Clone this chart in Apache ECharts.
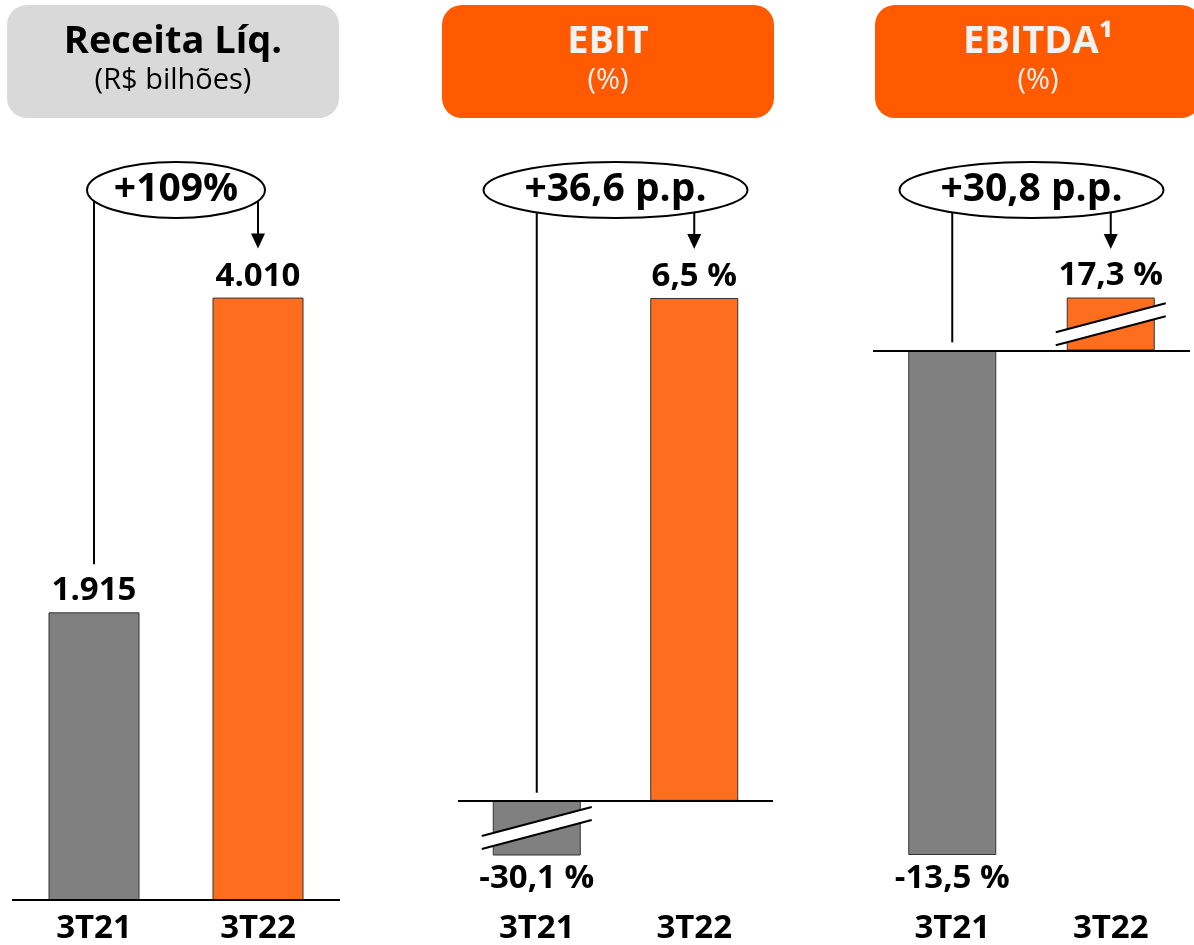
<!DOCTYPE html>
<html><head><meta charset="utf-8">
<script src="https://cdn.jsdelivr.net/npm/echarts@6/dist/echarts.min.js"></script>
<style>html,body{margin:0;padding:0;background:#fff}#c{width:1194px;height:945px}</style>
</head><body><div id="c"></div>
<script>
// ---- data ----
const categories = ['3T21', '3T22'];
const receitaValues = [1915, 4010];
const ebitValues = [-30.1, 6.5];
const ebitdaValues = [-13.5, 17.3];
const panelTitles = ['Receita Líq.', 'EBIT', 'EBITDA¹'];
const panelSubtitles = ['(R$ bilhões)', '(%)', '(%)'];
const deltaLabels = ['+109%', '+36,6 p.p.', '+30,8 p.p.'];

// ---- style / layout ----
const FONT = "'Open Sans', 'Noto Sans', sans-serif";
const GRAY = '#808080', ORANGE = '#ff6e1f', HEAD_ORANGE = '#ff5a00';
const ELLIPSE_Y = 190, ELLIPSE_RY = 28;
const fmtThousands = v => String(Math.round(v)).replace(/\B(?=(\d{3})+(?!\d))/g, '.');
const fmtPct = v => v.toFixed(1).replace('.', ',') + ' %';

const panels = [
  { values: receitaValues, fmt: fmtThousands, grid: { left: 12, width: 328, top: 224, bottom: 43 },
    yMin: 0, yMax: 4500, barWidth: 91, labelMargin: 12, rx: 89,
    header: { x: 7, w: 332, fill: '#d9d9d9', color: '#000' } },
  { values: ebitValues, fmt: fmtPct, grid: { left: 458, width: 315, top: 298, bottom: 88 },
    yMin: -0.7, yMax: 6.5, barWidth: 88, labelMargin: 57, rx: 132,
    header: { x: 442, w: 332, fill: HEAD_ORANGE, color: '#f2f2f2' } },
  { values: ebitdaValues, fmt: fmtPct, grid: { left: 873, width: 317, top: 298, bottom: 88 },
    yMin: -13.5, yMax: 1.4, barWidth: 88, labelMargin: 57, rx: 132,
    header: { x: 875, w: 326, fill: HEAD_ORANGE, color: '#f2f2f2' } }
];

const grid = [], xAxis = [], yAxis = [], series = [], graphic = [];
panels.forEach((p, k) => {
  grid.push(Object.assign({ containLabel: false }, p.grid));
  xAxis.push({
    type: 'category', gridIndex: k, data: categories,
    axisLine: { show: false, onZero: false }, axisTick: { show: false },
    axisLabel: { fontFamily: FONT, fontWeight: 'bold', fontSize: 33, lineHeight: 33, color: '#000', margin: p.labelMargin }
  });
  yAxis.push({ type: 'value', gridIndex: k, min: p.yMin, max: p.yMax, show: false });

  series.push({
    type: 'bar', xAxisIndex: k, yAxisIndex: k, barWidth: p.barWidth, clip: true,
    data: p.values.map((v, i) => ({
      value: v,
      itemStyle: { color: i === 0 ? GRAY : ORANGE },
      label: { position: v < 0 ? 'bottom' : 'top', distance: v < 0 ? 7 : 5 }
    })),
    itemStyle: { borderColor: '#333', borderWidth: 1 },
    label: {
      show: true, formatter: prm => p.fmt(prm.value),
      fontFamily: FONT, fontWeight: 'bold', fontSize: 33, lineHeight: 33, color: '#000'
    },
    markLine: {
      silent: true, symbol: ['none', 'none'], label: { show: false },
      lineStyle: { color: '#000', width: 2, type: 'solid' },
      data: [{ yAxis: 0 }]
    }
  });

  // axis-break marks on bars that exceed the visible range
  series.push({
    type: 'custom', xAxisIndex: k, yAxisIndex: k, z: 10, silent: true,
    data: p.values.map((v, i) => [i, v]),
    renderItem: (params, api) => {
      const i = api.value(0), v = api.value(1);
      if (v <= p.yMax && v >= p.yMin) return { type: 'group', children: [] };
      const lim = v > p.yMax ? p.yMax : p.yMin;
      const c = api.coord([i, lim / 2]);
      const hw = p.barWidth / 2 + 11;
      const x1 = c[0] - hw, x2 = c[0] + hw, yc = c[1];
      const u1 = yc + 8, u2 = yc - 21, l1 = yc + 21, l2 = yc - 8;
      return { type: 'group', children: [
        { type: 'polygon', shape: { points: [[x1, u1], [x2, u2], [x2, l2], [x1, l1]] }, style: { fill: '#fff' } },
        { type: 'line', shape: { x1: x1, y1: u1, x2: x2, y2: u2 }, style: { stroke: '#000', lineWidth: 2 } },
        { type: 'line', shape: { x1: x1, y1: l1, x2: x2, y2: l2 }, style: { stroke: '#000', lineWidth: 2 } }
      ] };
    }
  });

  // change annotation: ellipse + connectors
  series.push({
    type: 'custom', xAxisIndex: k, yAxisIndex: k, z: 12, silent: true,
    data: [[0, 0]],
    renderItem: (params, api) => {
      const v0 = p.values[0], v1 = p.values[1];
      const clamp = v => Math.max(p.yMin, Math.min(p.yMax, v));
      const a = api.coord([0, clamp(v0)]), b = api.coord([1, clamp(v1)]), z0 = api.coord([0, 0]);
      const cx = (a[0] + b[0]) / 2, cy = ELLIPSE_Y;
      const leftEnd = v0 >= 0 ? a[1] - 48 : z0[1] - 8;
      const tip = (v1 >= 0 ? b[1] : z0[1]) - 49;
      return { type: 'group', children: [
        { type: 'line', shape: { x1: a[0], y1: cy, x2: a[0], y2: leftEnd }, style: { stroke: '#000', lineWidth: 2 } },
        { type: 'line', shape: { x1: b[0], y1: cy, x2: b[0], y2: tip - 14 }, style: { stroke: '#000', lineWidth: 2 } },
        { type: 'polygon', shape: { points: [[b[0] - 7, tip - 15], [b[0] + 7, tip - 15], [b[0], tip]] }, style: { fill: '#000' } },
        { type: 'ellipse', shape: { cx: cx, cy: cy, rx: p.rx, ry: ELLIPSE_RY }, style: { fill: '#fff', stroke: '#000', lineWidth: 2 } },
        { type: 'text', x: cx, y: cy, style: { text: deltaLabels[k], fontFamily: FONT, fontWeight: 'bold', fontSize: 39, fill: '#000', align: 'center', verticalAlign: 'middle' } }
      ] };
    }
  });

  graphic.push({ type: 'group', silent: true, children: [
    { type: 'rect', shape: { x: p.header.x, y: 5, width: p.header.w, height: 113, r: 20 }, style: { fill: p.header.fill } },
    { type: 'text', x: p.header.x + p.header.w / 2, y: 42, style: { text: panelTitles[k], fontFamily: FONT, fontWeight: 'bold', fontSize: 38, fill: p.header.color, align: 'center', verticalAlign: 'middle' } },
    { type: 'text', x: p.header.x + p.header.w / 2, y: 81, style: { text: panelSubtitles[k], fontFamily: FONT, fontWeight: 'normal', fontSize: 29, fill: p.header.color, align: 'center', verticalAlign: 'middle' } }
  ] });
});

const chart = echarts.init(document.getElementById('c'), null, { renderer: 'canvas' });
chart.setOption({ animation: false, backgroundColor: '#fff', grid, xAxis, yAxis, series, graphic });
</script>
</body></html>
